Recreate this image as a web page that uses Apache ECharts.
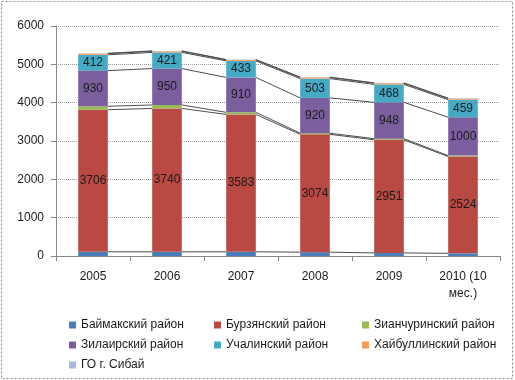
<!DOCTYPE html>
<html><head><meta charset="utf-8">
<script src="https://cdn.jsdelivr.net/npm/echarts@6/dist/echarts.min.js"></script>
<style>html,body{margin:0;padding:0;background:#fff}#c{width:515px;height:380px}</style>
</head><body><div id="c"></div>
<script>
const categories = ['2005', '2006', '2007', '2008', '2009', '2010 (10\nмес.)'];
const seriesNames = ['Баймакский район', 'Бурзянский район', 'Зианчуринский район', 'Зилаирский район', 'Учалинский район', 'Хайбуллинский район', 'ГО г. Сибай'];
const baymak = [110, 110, 110, 100, 80, 70];
const burzyan = [3706, 3740, 3583, 3074, 2951, 2524];
const zianchura = [90, 90, 55, 30, 30, 25];
const zilair = [930, 950, 910, 920, 948, 1000];
const uchaly = [412, 421, 433, 503, 468, 459];
const khaibullino = [30, 30, 25, 30, 30, 30];
const sibay = [10, 10, 10, 10, 10, 10];
const yTicks = [0, 1000, 2000, 3000, 4000, 5000, 6000];

const allValues = [baymak, burzyan, zianchura, zilair, uchaly, khaibullino, sibay];
const colors = ['#4A7EBB', '#BA4944', '#98B954', '#7A5E9E', '#46AAC5', '#F59D56', '#A7B9E0'];
const labeled = [false, true, false, true, true, false, false];
const FONT = "'Liberation Sans', Arial, sans-serif";
const BAR_FRAC = 0.4;

// cumulative tops for series lines
const cum = [];
let running = categories.map(() => 0);
allValues.forEach(arr => {
  running = running.map((v, i) => v + arr[i]);
  cum.push(running.slice());
});

const barSeries = allValues.map((arr, k) => ({
  name: seriesNames[k],
  type: 'bar',
  stack: 'total',
  barWidth: (BAR_FRAC * 100) + '%',
  data: arr,
  itemStyle: { color: colors[k] },
  label: {
    show: labeled[k], position: 'inside', color: '#1a1a1a',
    fontSize: 12, fontFamily: FONT
  },
  emphasis: { disabled: true },
  animation: false
}));

const lineSeries = {
  type: 'custom',
  name: 'serieslines',
  silent: true,
  animation: false,
  z: 3,
  data: categories.slice(0, -1).map((c, i) => [i, 0]),
  encode: { x: 0, y: 1 },
  renderItem: function (params, api) {
    const i = api.value(0);
    const band = api.size([1, 0])[0];
    const half = band * BAR_FRAC / 2;
    const children = [];
    for (let k = 0; k < cum.length; k++) {
      const p1 = api.coord([i, cum[k][i]]);
      const p2 = api.coord([i + 1, cum[k][i + 1]]);
      children.push({
        type: 'line',
        shape: { x1: p1[0] + half, y1: p1[1], x2: p2[0] - half, y2: p2[1] },
        style: { stroke: '#4d4d4d', lineWidth: 1 }
      });
    }
    return { type: 'group', children: children };
  }
};

const legendBase = {
  orient: 'vertical', itemWidth: 7, itemHeight: 7, itemGap: 6,
  icon: 'rect', selectedMode: false,
  textStyle: { fontSize: 12, fontFamily: FONT, color: '#1a1a1a', lineHeight: 14 }
};

const chart = echarts.init(document.getElementById('c'), null, { renderer: 'canvas' });
chart.setOption({
  animation: false,
  backgroundColor: '#fff',
  textStyle: { fontFamily: FONT },
  graphic: [{
    type: 'rect', silent: true,
    shape: { x: 1.5, y: 1.5, width: 511, height: 377 },
    style: { fill: 'none', stroke: '#8a8a8a', lineWidth: 1, lineDash: [2, 2] }
  }],
  grid: { left: 56, right: 15, top: 26, bottom: 124 },
  legend: [
    Object.assign({}, legendBase, { left: 64, top: 313, data: [seriesNames[0], seriesNames[3], seriesNames[6]] }),
    Object.assign({}, legendBase, { left: 209, top: 313, data: [seriesNames[1], seriesNames[4]] }),
    Object.assign({}, legendBase, { left: 357, top: 313, data: [seriesNames[2], seriesNames[5]] })
  ],
  xAxis: {
    type: 'category', data: categories, boundaryGap: true,
    axisLine: { lineStyle: { color: '#868686' } },
    axisTick: { show: true, interval: 0, length: 5, lineStyle: { color: '#868686' } },
    axisLabel: { interval: 0, fontSize: 12, color: '#1a1a1a', margin: 12, lineHeight: 17, fontFamily: FONT }
  },
  yAxis: {
    type: 'value', min: yTicks[0], max: yTicks[yTicks.length - 1], interval: 1000,
    axisLine: { show: true, lineStyle: { color: '#868686' } },
    axisTick: { show: true, length: 5, lineStyle: { color: '#868686' } },
    axisLabel: { fontSize: 12, color: '#1a1a1a', margin: 12, fontFamily: FONT, formatter: v => String(v) },
    splitLine: { show: true, lineStyle: { color: '#9a9a9a', type: [1, 1] } }
  },
  series: barSeries.concat([lineSeries])
});
</script></body></html>
